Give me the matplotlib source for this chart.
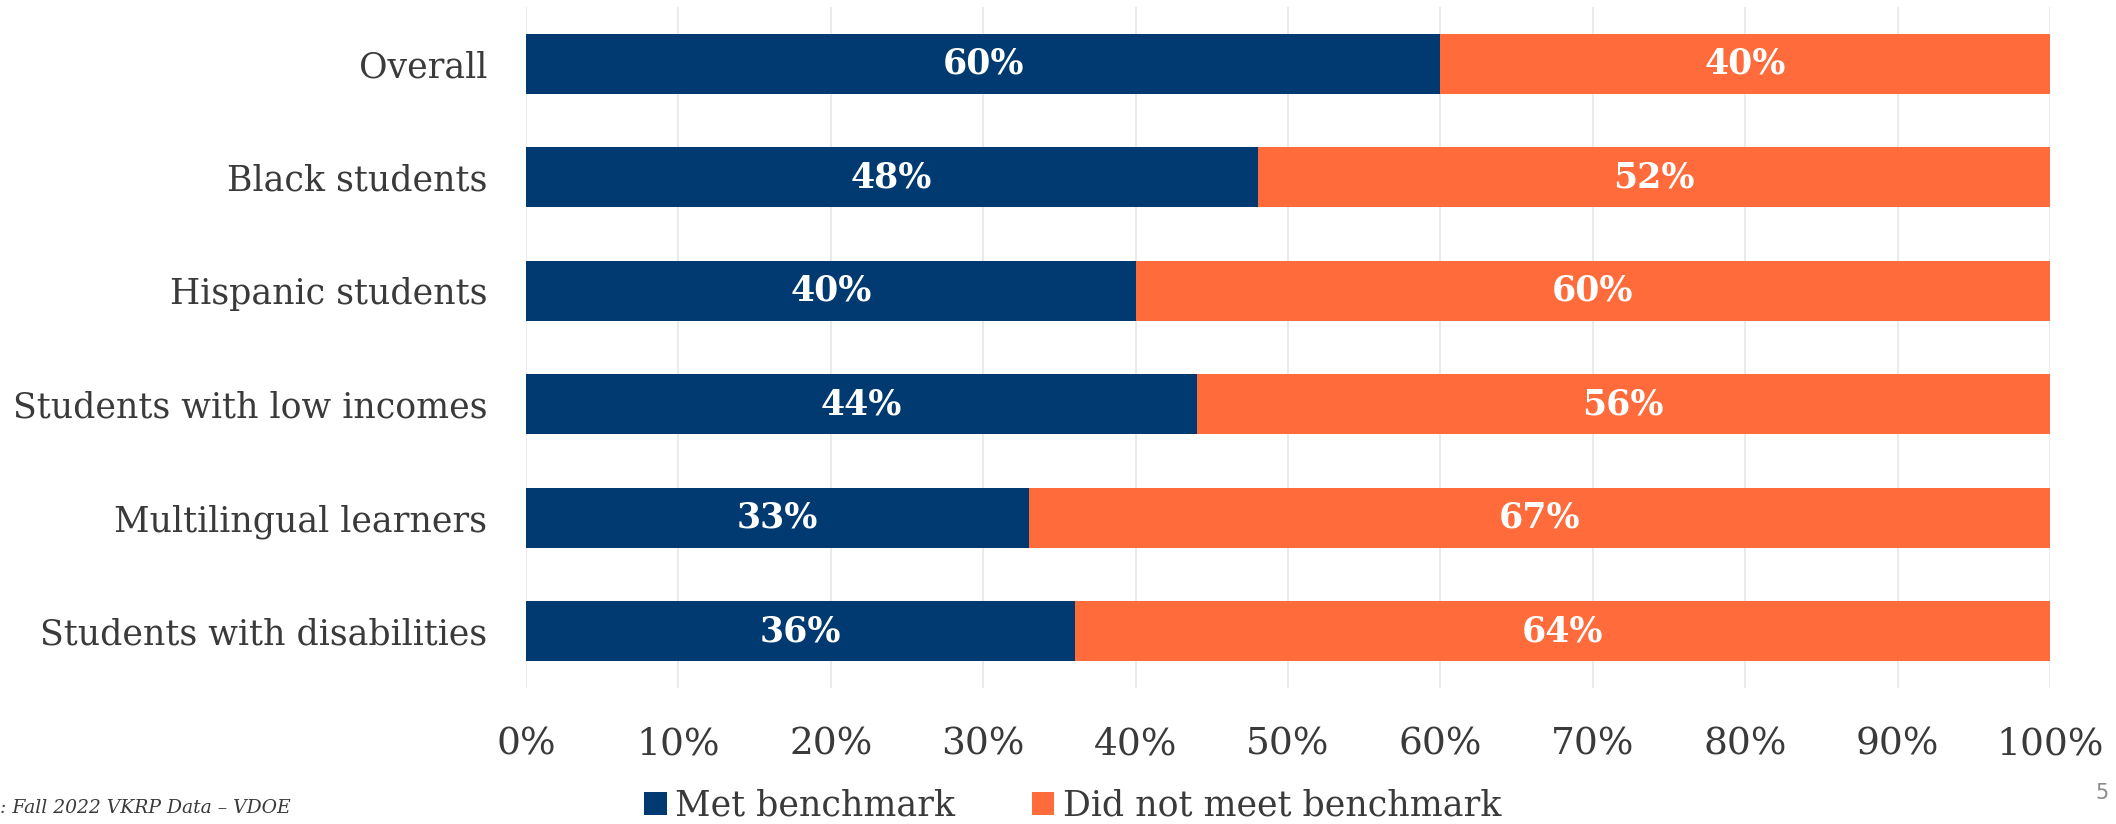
import matplotlib
matplotlib.use("Agg")
import matplotlib.pyplot as plt
from matplotlib.ticker import PercentFormatter

# Kindergarten readiness: share meeting the VKRP benchmark, by student group
groups = ["Overall", "Black students", "Hispanic students",
          "Students with low incomes", "Multilingual learners",
          "Students with disabilities"]
met = [60, 48, 40, 44, 33, 36]
not_met = [40, 52, 60, 56, 67, 64]

NAVY = "#003a70"
ORANGE = "#ff6b3a"
TEXT = "#3a3a3a"
SERIF = ["DejaVu Serif"]

fig = plt.figure(figsize=(21.16, 8.24), dpi=100)
ax = fig.add_axes([0.2486, 0.165, 0.7202, 0.8265])

y = range(len(groups))
b1 = ax.barh(y, met, height=0.53, color=NAVY, label="Met benchmark")
b2 = ax.barh(y, not_met, left=met, height=0.53, color=ORANGE,
             label="Did not meet benchmark")

for i, (m, n) in enumerate(zip(met, not_met)):
    ax.text(m / 2, i, f"{m}%", ha="center", va="center", color="white",
            fontsize=25, fontweight="bold", family=SERIF)
    ax.text(m + n / 2, i, f"{n}%", ha="center", va="center", color="white",
            fontsize=25, fontweight="bold", family=SERIF)

ax.set_xlim(0, 100)
ax.set_ylim(len(groups) - 0.5, -0.5)
ax.set_xticks(range(0, 101, 10))
ax.xaxis.set_major_formatter(PercentFormatter(decimals=0))
ax.set_yticks(list(y))
ax.set_yticklabels(groups)
ax.tick_params(axis="both", length=0, colors=TEXT)
ax.tick_params(axis="x", pad=28, labelsize=27)
ax.tick_params(axis="y", pad=28, labelsize=25)
for lab in ax.get_xticklabels() + ax.get_yticklabels():
    lab.set_family(SERIF)

ax.grid(axis="x", color="#e6e6e6", linewidth=1.2)
ax.set_axisbelow(True)
for s in ax.spines.values():
    s.set_visible(False)

fig.legend(handles=[b1, b2], loc="center", bbox_to_anchor=(0.507, 0.022),
           ncol=2, frameon=False, handlelength=0.65, handleheight=0.65,
           handletextpad=0.25, columnspacing=2.2,
           prop={"family": SERIF, "size": 25}, labelcolor=TEXT)

fig.text(0.0, 0.008, ": Fall 2022 VKRP Data \u2013 VDOE", fontsize=13.5,
         style="italic", color=TEXT, family=SERIF, ha="left", va="bottom")
fig.text(0.9965, 0.025, "5", fontsize=15, color="#8a8a8a", ha="right",
         va="bottom")

fig.savefig("out.png", dpi=100)
